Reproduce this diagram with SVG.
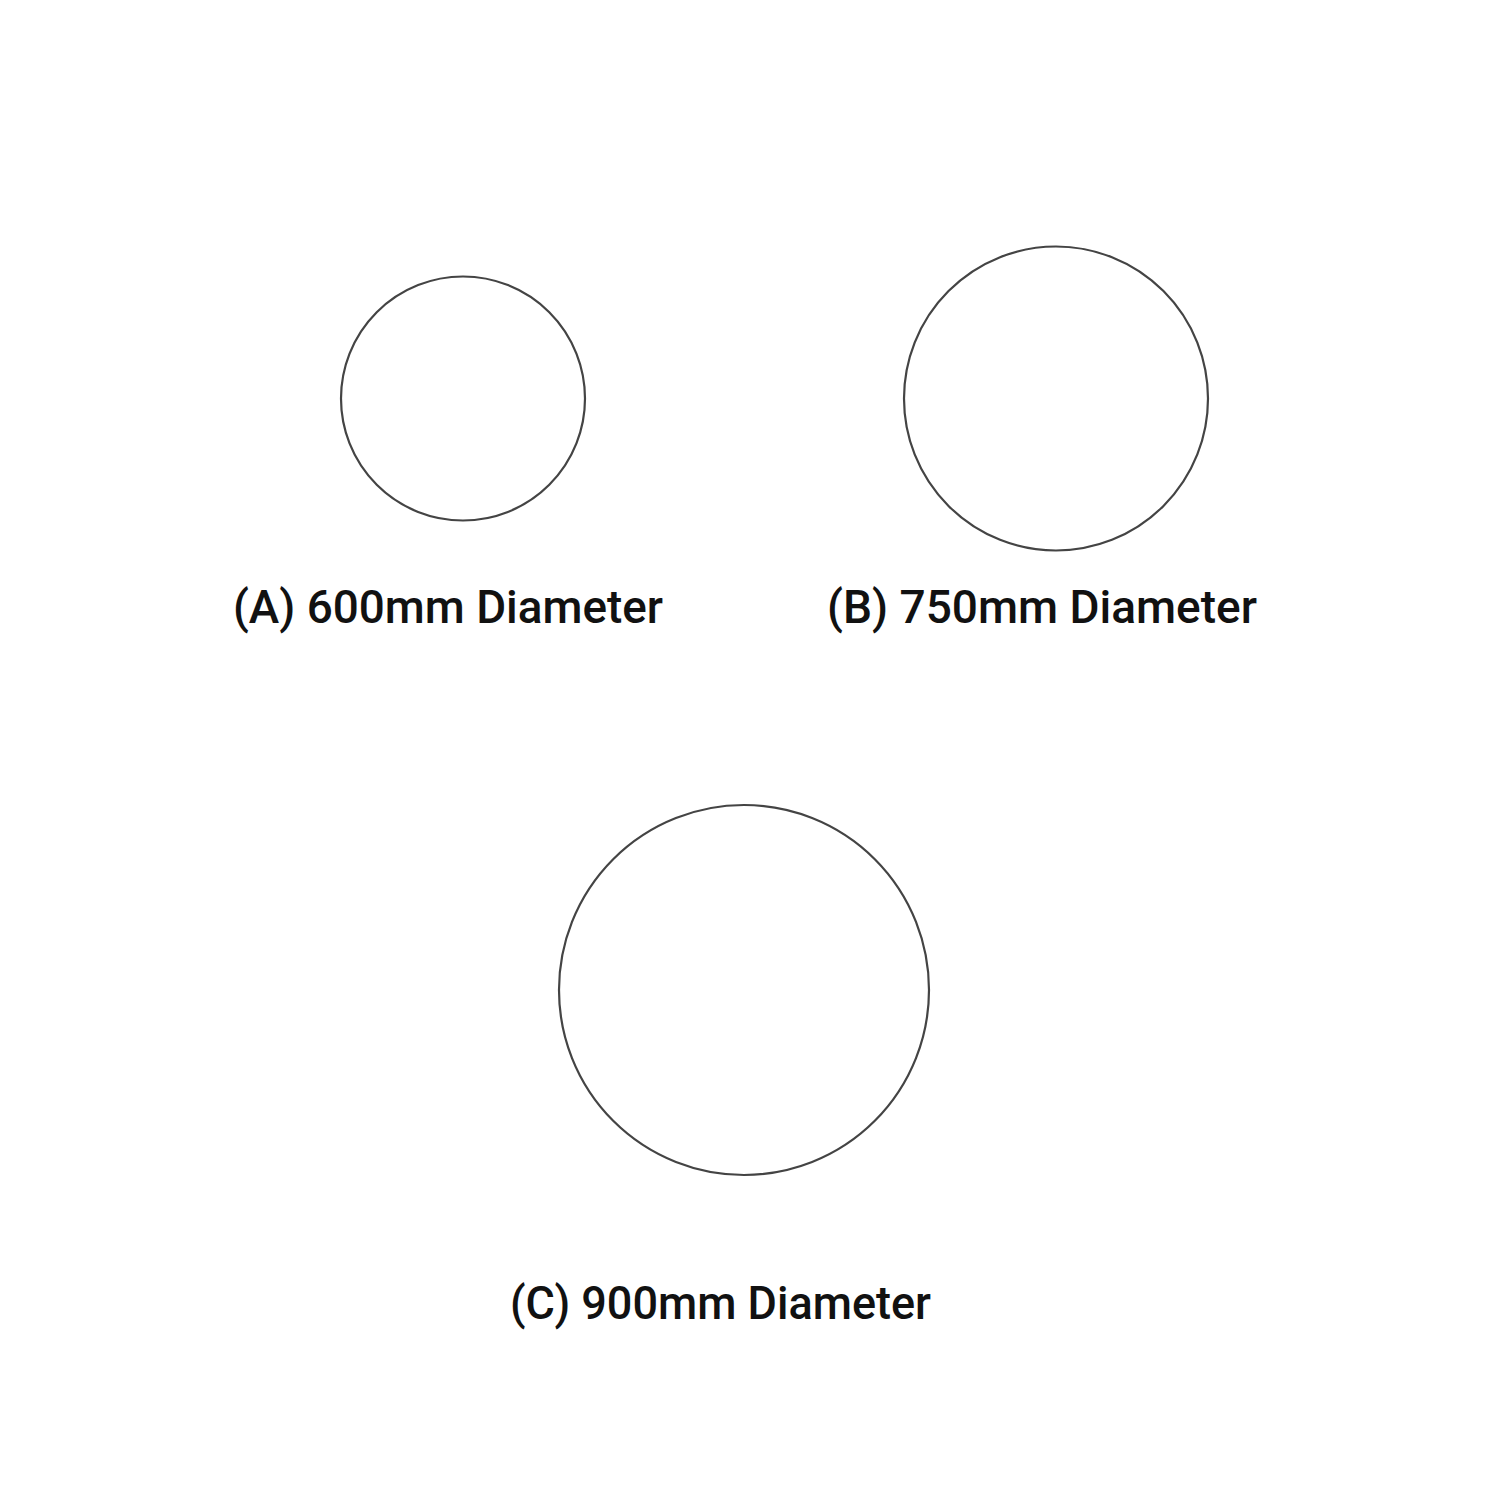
<svg xmlns="http://www.w3.org/2000/svg" width="1500" height="1500" viewBox="0 0 1500 1500">
<style>
.c{fill:none;stroke:#444;stroke-width:2.2}
.t{font-family:Roboto,"Liberation Sans",sans-serif;font-size:46px;font-weight:500;fill:#111}
</style>
<rect width="1500" height="1500" fill="#fff"/>
<g id="nodeA">
<circle class="c" cx="463" cy="398.5" r="122"/>
<text class="t" x="233" y="623" textLength="430" lengthAdjust="spacingAndGlyphs">(A) 600mm Diameter</text>
</g>
<g id="nodeB">
<circle class="c" cx="1056" cy="398.5" r="152"/>
<text class="t" x="827" y="623" textLength="430" lengthAdjust="spacingAndGlyphs">(B) 750mm Diameter</text>
</g>
<g id="nodeC">
<circle class="c" cx="744" cy="990" r="185"/>
<text class="t" x="510" y="1319" textLength="421" lengthAdjust="spacingAndGlyphs">(C) 900mm Diameter</text>
</g>
<g id="connectors"/>
</svg>
